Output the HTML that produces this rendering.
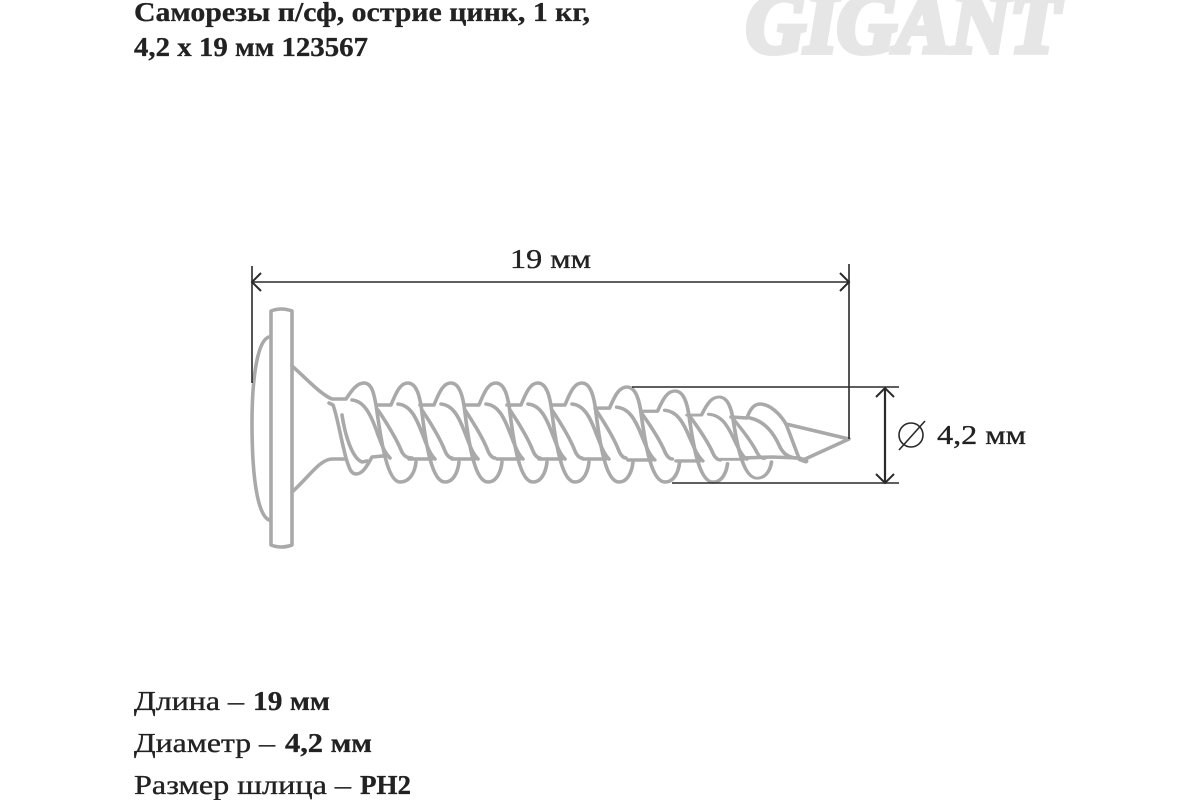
<!DOCTYPE html>
<html><head><meta charset="utf-8"><style>
html,body{margin:0;padding:0;background:#fff}
svg{display:block}
text{font-family:"Liberation Serif",serif;fill:#222}
.b{font-weight:bold;stroke:#222;stroke-width:.3}
.r{stroke:#222;stroke-width:.35}
</style></head><body>
<svg width="1200" height="800" viewBox="0 0 1200 800" xmlns="http://www.w3.org/2000/svg">
<defs>
<g id="turn">
<path d="M-31 22L-17 22C-11 7-7 0 0 0C8 0 12 12 14 30C18 62 24 99 37 99C46 99 50 88 51 79"/>
<path d="M-10 21C2 22 8 34 14 50C18 60 21 70 27 76"/>
<path d="M14 27C24 42 32 55 37 68C39 73 42 75 44 75"/>
<path d="M1 76L24 76"/>
</g>
</defs>
<text class="b" x="134" y="21" font-size="27" textLength="456" lengthAdjust="spacingAndGlyphs">Саморезы п/сф, острие цинк, 1 кг,</text>
<text class="b" x="134" y="56" font-size="27" textLength="234" lengthAdjust="spacingAndGlyphs">4,2 х 19 мм 123567</text>
<text x="746" y="52" font-size="86" font-weight="bold" font-style="italic" textLength="314" lengthAdjust="spacingAndGlyphs" style="fill:#e6e6e6;stroke:#e6e6e6;stroke-width:6;stroke-linejoin:miter">GIGANT</text>

<g fill="none" stroke="#a9a9a9" stroke-width="3.6" stroke-linecap="round" stroke-linejoin="round">
<path d="M271 311Q281 307 292 311L292 545Q281 549 271 545Z"/>
<path d="M269 337C258 340 252 375 252 423C252 480 258 515 269 520"/>
<path d="M292 366C306 378 320 394 332 399L346 399C352 390 357 383 364 383C372 383 374 394 376 405C380 432 386 482 400 482C410 482 415 472 416 462"/>
<path d="M292 492C308 478 320 459 332 459L346 459"/>
<path d="M329 403L333 405C337 415 340 435 346 458C349 468 351 474 356 474C362 474 366 468 372 457L383 456"/>
<path d="M342 415C345 435 352 458 362 462L367 461"/>
<path d="M352 400C364 401 371 414 378 435C382 445 384 452 390 458"/>
<path d="M378 410C388 425 396 438 401 450C403 455 406 458 412 458"/>
<use href="#turn" transform="translate(408 383)"/>
<use href="#turn" transform="translate(451 383)"/>
<use href="#turn" transform="translate(496 383)"/>
<use href="#turn" transform="translate(538 383)"/>
<use href="#turn" transform="translate(582 383)"/>
<use href="#turn" transform="translate(627 387) scale(1.03 .96)"/>
<use href="#turn" transform="translate(675 391) scale(1.03 .92)"/>
<use href="#turn" transform="translate(719 397) scale(1.03 .82)"/>
<path d="M731 417L747 418C750 409 754 404 760 404C770 404 780 414 786 424C790 434 795 448 799 458"/>
<path d="M750 418C764 421 773 432 779 445C782 452 787 458 797 458"/>
<path d="M743 458L772 457L799 458"/>
<path d="M786 424L849 439L803 460"/>
<path d="M800 459L806 461" stroke-width="5"/>
</g>

<g fill="none" stroke="#2a2a2a" stroke-width="1.6">
<path d="M252 266V383M849 264V439M252 282H849M632 387H899M672 483H899"/>
<path d="M885 388V483" stroke-width="2.2"/>
<path d="M261 273L252 282L261 291M840 273L849 282L840 291M876 397L885 388L894 397M876 474L885 483L894 474" stroke-width="2"/>
<circle cx="911" cy="435" r="12"/>
<path d="M899 450L925 421"/>
</g>
<text class="r" x="510" y="268" font-size="27" textLength="81" lengthAdjust="spacingAndGlyphs">19 мм</text>
<text class="r" x="937" y="444" font-size="27" textLength="89" lengthAdjust="spacingAndGlyphs">4,2 мм</text>

<text class="r" x="134" y="710" font-size="27" textLength="110" lengthAdjust="spacingAndGlyphs">Длина –</text>
<text class="b" x="253" y="710" font-size="27" textLength="77" lengthAdjust="spacingAndGlyphs">19 мм</text>
<text class="r" x="134" y="752" font-size="27" textLength="141" lengthAdjust="spacingAndGlyphs">Диаметр –</text>
<text class="b" x="285" y="752" font-size="27" textLength="87" lengthAdjust="spacingAndGlyphs">4,2 мм</text>
<text class="r" x="134" y="794" font-size="27" textLength="217" lengthAdjust="spacingAndGlyphs">Размер шлица –</text>
<text class="b" x="360" y="794" font-size="27" textLength="51" lengthAdjust="spacingAndGlyphs">PH2</text>
</svg>
</body></html>
